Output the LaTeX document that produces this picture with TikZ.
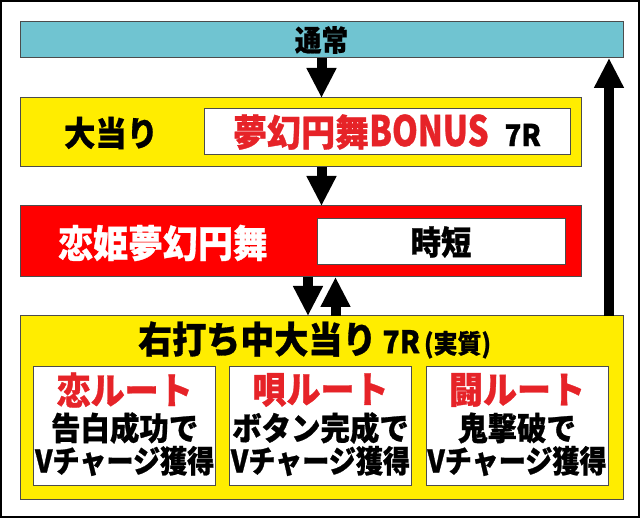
\documentclass[tikz,border=0pt]{standalone}
\usepackage{fontspec}
\usepackage{graphicx}
\setmainfont{Noto Sans CJK JP Black}[FakeStretch=0.92,FakeBold=0.8]
\usetikzlibrary{arrows.meta}
\definecolor{tealbox}{RGB}{112,196,209}
\definecolor{yelbox}{RGB}{255,237,0}
\definecolor{redbox}{RGB}{255,0,0}
\definecolor{redtxt}{RGB}{230,35,40}
\newcommand{\FSz}[1]{\fontsize{#1}{#1}\selectfont}
\tikzset{
  panel/.style={draw=black!70, line width=1pt, inner sep=0pt, outer sep=0pt},
  lbl/.style={inner sep=0pt, text=black},
  bigarrow/.style={line width=10pt, -{Triangle[width=28pt,length=30pt]}}
}
\begin{document}
\begin{tikzpicture}[x=1pt,y=-1pt]
\useasboundingbox (0,0) rectangle (640,518);
\draw[line width=2pt] (1,1) rectangle (639,517);
% boxes
\node[panel, fill=tealbox, minimum width=603pt, minimum height=36pt, font=\FSz{29}] (tsujo) at (321.5,40) {通常};
\node[panel, fill=yelbox, minimum width=561pt, minimum height=69pt] (ooatari) at (300.5,132.5) {};
\node[lbl, font=\FSz{34}] (ooatariT) at (111,133) {大当り};
\node[panel, fill=white, minimum width=366pt, minimum height=46pt] (bonus) at (387,132) {};
\node[lbl, font=\FSz{37}] (bonusT) at (387,132) {\textcolor{redtxt}{夢幻円舞\scalebox{0.85}[1]{\FSz{42}BONUS}}\hspace{16pt}{\FSz{30}7R}};
\node[panel, fill=redbox, minimum width=561pt, minimum height=71pt] (koihime) at (300.5,241.5) {};
\node[lbl, text=white, font=\FSz{38}] (koihimeT) at (163,243) {恋姫夢幻円舞};
\node[panel, fill=white, minimum width=248pt, minimum height=46pt, font=\FSz{33}] (jitan) at (441,242) {時短};
\node[panel, fill=yelbox, minimum width=603pt, minimum height=183pt] (migi) at (321.5,407.5) {};
\node[lbl, font=\FSz{37}, anchor=west] (migiT) at (138,340) {右打ち中大当り\hspace{6pt}{\FSz{31}7R}\hspace{4pt}{\FSz{26}(実質)}};
% sub boxes
\foreach \n/\cx/\ta/\tb/\tc in {s1/124.7/恋ルート/告白成功で/Vチャージ獲得,
                                s2/320.5/唄ルート/ボタン完成で/Vチャージ獲得,
                                s3/517/闘ルート/鬼撃破で/Vチャージ獲得}{
  \node[panel, fill=white, minimum width=182pt, minimum height=118pt] (\n) at (\cx,426) {};
  \node[lbl, text=redtxt, font=\FSz{37}] (\n a) at (\cx,390) {\ta};
  \node[lbl, font=\FSz{32}] (\n b) at (\cx,428) {\tb};
  \node[lbl, font=\FSz{31}] (\n c) at (\cx,461) {\scalebox{0.95}[1]{\tc}};
}
% arrows
\coordinate (dA) at (308,0);
\coordinate (uA) at (335.5,0);
\coordinate (rA) at (609,0);
\draw[bigarrow] (tsujo.south) -- (tsujo.south |- ooatari.north);
\draw[bigarrow] (tsujo.south |- ooatari.south) -- (tsujo.south |- koihime.north);
\draw[bigarrow] (dA |- koihime.south) -- (dA |- migi.north);
\draw[bigarrow] (uA |- migi.north) -- (uA |- koihime.south);
\draw[bigarrow] (rA |- migi.north) -- (rA |- tsujo.south);
\end{tikzpicture}
\end{document}
